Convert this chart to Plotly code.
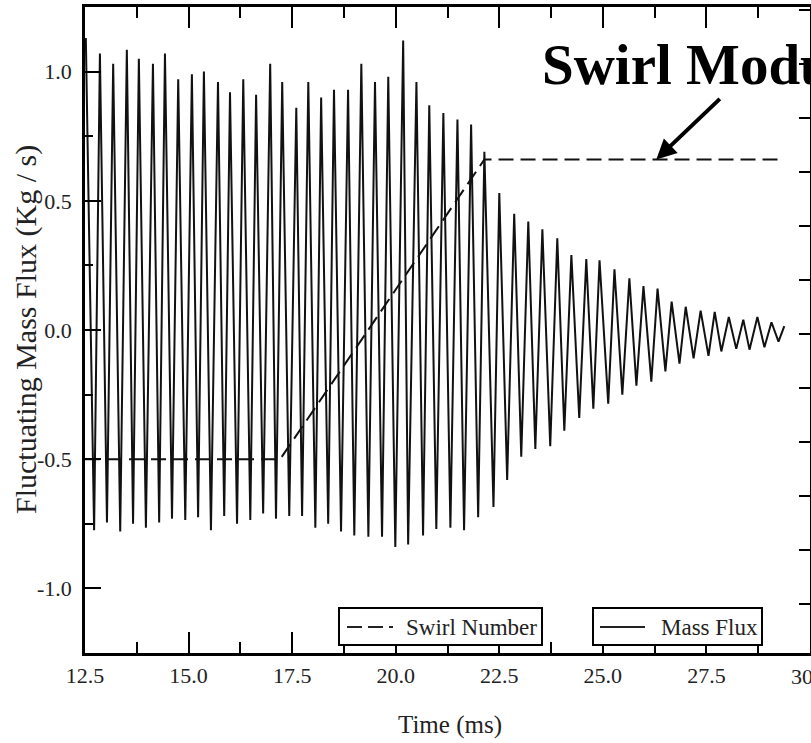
import plotly.graph_objects as go

# ---------------- data ----------------
# Mass flux: alternating peak / trough samples (time in ms, value in kg/s)
peak_time = [12.52, 12.86, 13.18, 13.51, 13.80, 14.14, 14.43, 14.75, 15.08, 15.37,
             15.71, 16.00, 16.32, 16.63, 16.97, 17.26, 17.60, 17.89, 18.20, 18.51,
             18.85, 19.17, 19.50, 19.82, 20.18, 20.50, 20.81, 21.15, 21.49, 21.82,
             22.14, 22.50, 22.86, 23.20, 23.54, 23.90, 24.24, 24.60, 24.92, 25.28,
             25.64, 25.98, 26.32, 26.66, 27.00, 27.36, 27.70, 28.04, 28.39, 28.73,
             29.07, 29.38]
peak_value = [1.13, 1.07, 1.03, 1.085, 1.05, 1.03, 1.07, 0.97, 0.99, 1.00,
              0.96, 0.92, 0.97, 0.91, 1.03, 0.96, 0.86, 0.96, 0.90, 0.93,
              0.93, 1.03, 0.96, 0.98, 1.12, 0.96, 0.87, 0.84, 0.815, 0.795,
              0.69, 0.53, 0.45, 0.42, 0.39, 0.355, 0.29, 0.275, 0.27, 0.235,
              0.20, 0.17, 0.16, 0.11, 0.09, 0.075, 0.07, 0.05, 0.04, 0.05,
              0.03, 0.015]
trough_time = [12.72, 13.03, 13.35, 13.66, 13.97, 14.29, 14.60, 14.92, 15.23, 15.54,
               15.86, 16.17, 16.49, 16.80, 17.11, 17.43, 17.74, 18.06, 18.37, 18.68,
               19.00, 19.34, 19.67, 19.99, 20.30, 20.66, 20.98, 21.32, 21.65, 21.99,
               22.36, 22.69, 23.03, 23.37, 23.73, 24.07, 24.43, 24.77, 25.13, 25.47,
               25.81, 26.17, 26.51, 26.85, 27.19, 27.55, 27.86, 28.22, 28.54, 28.90,
               29.24]
trough_value = [-0.775, -0.745, -0.78, -0.75, -0.765, -0.745, -0.73, -0.735, -0.725, -0.775,
                -0.72, -0.75, -0.735, -0.71, -0.73, -0.72, -0.72, -0.765, -0.75, -0.78,
                -0.795, -0.80, -0.80, -0.84, -0.83, -0.795, -0.77, -0.765, -0.775, -0.725,
                -0.685, -0.58, -0.49, -0.46, -0.45, -0.39, -0.34, -0.305, -0.285, -0.25,
                -0.215, -0.20, -0.16, -0.13, -0.11, -0.10, -0.083, -0.073, -0.076, -0.067,
                -0.045]

# Swirl number (drawn in the left-axis units)
swirl_time = [12.5, 17.21, 22.14, 29.36]
swirl_value = [-0.5, -0.5, 0.66, 0.66]

# Axis tick values / labels
x_tick_vals = [12.5, 15.0, 17.5, 20.0, 22.5, 25.0, 27.5]
x_tick_text = ["12.5", "15.0", "17.5", "20.0", "22.5", "25.0", "27.5"]
x_last_tick = 30.0
x_last_text = "30.0"
y_tick_vals = [-1.0, -0.5, 0.0, 0.5, 1.0]
y_tick_text = ["-1.0", "-0.5", "0.0", "0.5", "1.0"]

# ---------------- build the series ----------------
flux_t, flux_v = [], []
for i in range(len(peak_time)):
    flux_t.append(peak_time[i]); flux_v.append(peak_value[i])
    if i < len(trough_time):
        flux_t.append(trough_time[i]); flux_v.append(trough_value[i])

SERIF = "Liberation Serif"
fig = go.Figure()
fig.add_trace(go.Scatter(x=flux_t, y=flux_v, mode="lines",
                         line=dict(color="#111111", width=2),
                         name="Mass Flux", showlegend=False))
fig.add_trace(go.Scatter(x=swirl_time, y=swirl_value, mode="lines",
                         line=dict(color="#111111", width=2, dash="15px,7px"),
                         name="Swirl Number", showlegend=False))
# invisible trace to activate right-hand axis
fig.add_trace(go.Scatter(x=[12.5], y=[0], yaxis="y2", mode="markers",
                         marker=dict(opacity=0), showlegend=False, hoverinfo="skip"))

W, H = 811, 743
L, R, T, B = 85, 1, 7, 90
pw, ph = W - L - R, H - T - B

def px(xp):
    return (xp - L) / pw

def py(yp):
    return (H - B - yp) / ph

fig.update_layout(
    width=W, height=H,
    margin=dict(l=L, r=R, t=T, b=B, autoexpand=False),
    paper_bgcolor="white", plot_bgcolor="white",
    font=dict(family=SERIF, color="#222222"),
    xaxis=dict(range=[12.5, 30.0], showgrid=False, zeroline=False, automargin=False,
               showline=True, linecolor="black", linewidth=2.5, mirror="ticks",
               ticks="inside", ticklen=21, tickwidth=2, tickcolor="black",
               tickvals=x_tick_vals + [x_last_tick], ticktext=x_tick_text + [""],
               tickfont=dict(family=SERIF, size=22, color="#222222"),
               ticklabelstandoff=1,
               minor=dict(ticks="inside", ticklen=11, tickwidth=2, tickcolor="black",
                          dtick=1.25, tick0=12.5, showgrid=False)),
    yaxis=dict(range=[-1.25, 1.25], showgrid=False, zeroline=False, automargin=False,
               showline=True, linecolor="black", linewidth=2.5, mirror=True,
               ticks="inside", ticklen=16, tickwidth=2, tickcolor="black",
               tickvals=y_tick_vals, ticktext=y_tick_text,
               tickfont=dict(family=SERIF, size=22, color="#222222"),
               ticklabelstandoff=6,
               minor=dict(ticks="inside", ticklen=8, tickwidth=2, tickcolor="black",
                          dtick=0.25, tick0=0, showgrid=False)),
    yaxis2=dict(overlaying="y", side="right", range=[0, 1], showgrid=False,
                zeroline=False, showline=False, showticklabels=False, automargin=False,
                ticks="inside", ticklen=11, tickwidth=2, tickcolor="black",
                tickmode="linear", tick0=0.0759, dtick=0.0836),
)

shapes = []
# legend boxes
box_y0, box_y1 = py(645), py(608)
shapes.append(dict(type="rect", xref="paper", yref="paper", x0=px(339), x1=px(542),
                   y0=box_y0, y1=box_y1, line=dict(color="black", width=2),
                   fillcolor="white", layer="above"))
shapes.append(dict(type="rect", xref="paper", yref="paper", x0=px(593), x1=px(762),
                   y0=box_y0, y1=box_y1, line=dict(color="black", width=2),
                   fillcolor="white", layer="above"))
shapes.append(dict(type="line", xref="paper", yref="paper", x0=px(347), x1=px(393),
                   y0=py(627), y1=py(627), line=dict(color="#222222", width=2, dash="15px,6px"),
                   layer="above"))
shapes.append(dict(type="line", xref="paper", yref="paper", x0=px(600), x1=px(645),
                   y0=py(627), y1=py(627), line=dict(color="#222222", width=2),
                   layer="above"))
fig.update_layout(shapes=shapes)

ann = []
ann.append(dict(text="Swirl Number", xref="paper", yref="paper", x=px(404), y=py(627),
                xanchor="left", yanchor="middle", showarrow=False,
                font=dict(family=SERIF, size=23, color="#222222")))
ann.append(dict(text="Mass Flux", xref="paper", yref="paper", x=px(659), y=py(627),
                xanchor="left", yanchor="middle", showarrow=False,
                font=dict(family=SERIF, size=23, color="#222222")))
# last x tick label (sits on the right edge of the page, like the original)
ann.append(dict(text=x_last_text, xref="x", yref="paper", x=x_last_tick, y=py(676),
                xanchor="center", yanchor="middle", showarrow=False,
                font=dict(family=SERIF, size=22, color="#222222")))
# axis titles
ann.append(dict(text="Fluctuating Mass Flux (Kg / s)", xref="paper", yref="paper",
                x=px(26), y=py(330), xanchor="center", yanchor="middle",
                textangle=-90, showarrow=False,
                font=dict(family=SERIF, size=30, color="#222222")))
ann.append(dict(text="Time (ms)", xref="paper", yref="paper",
                x=px(450), y=py(725), xanchor="center", yanchor="middle",
                showarrow=False, font=dict(family=SERIF, size=25, color="#222222")))
# annotation with arrow
ann.append(dict(text="<b>Swirl Modulation</b>", xref="paper", yref="paper",
                x=px(540), y=py(64), xanchor="left", yanchor="middle",
                showarrow=False, font=dict(family=SERIF, size=57, color="black")))
ann.append(dict(x=26.29, y=0.66, ax=27.86, ay=0.90, xref="x", yref="y",
                axref="x", ayref="y", text="", showarrow=True,
                arrowhead=2, arrowsize=1, arrowwidth=4, arrowcolor="black"))
fig.update_layout(annotations=ann)

fig.write_html("out.html")
